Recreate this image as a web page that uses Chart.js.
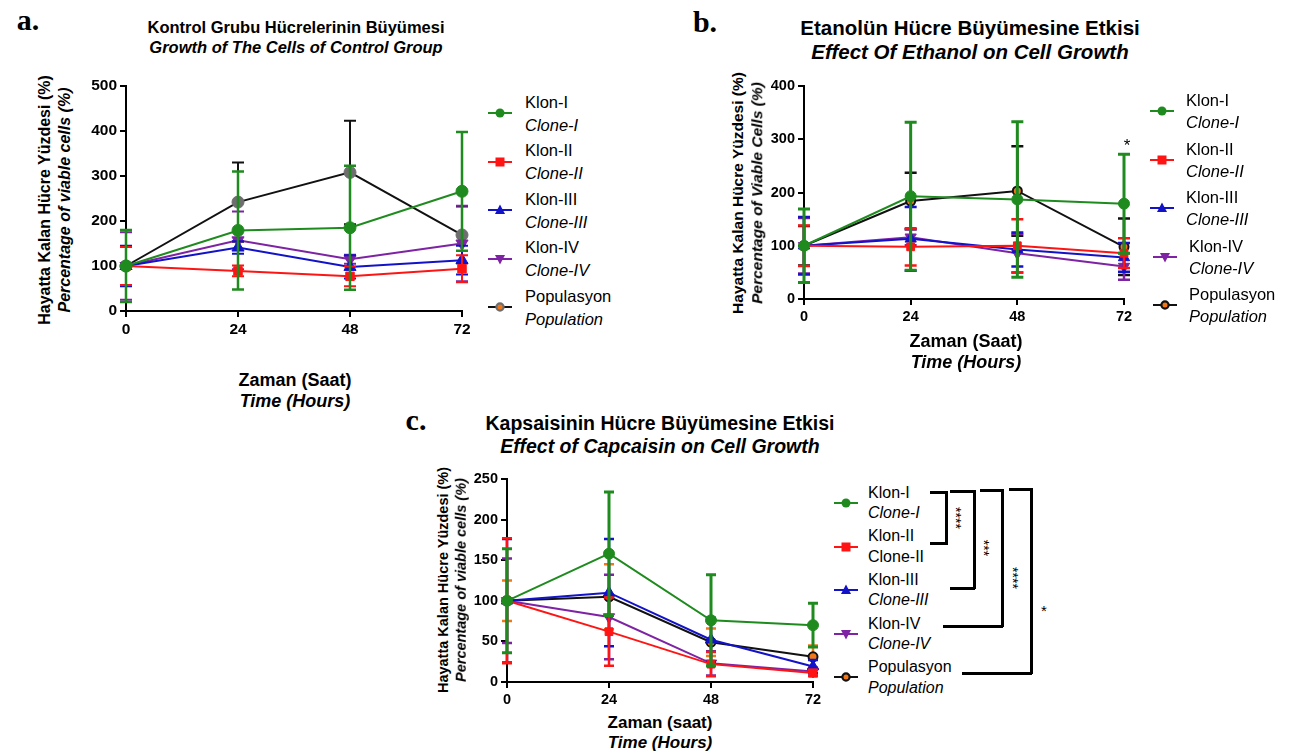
<!DOCTYPE html>
<html>
<head>
<meta charset="utf-8">
<script src="https://cdn.jsdelivr.net/npm/chart.js@4.4.1/dist/chart.umd.min.js"></script>
<style>
  body { margin: 0; background: #fff; }
  #page { position: relative; width: 1294px; height: 754px; overflow: hidden; font-family: "Liberation Sans", Arial, sans-serif; color: #000; }
  canvas { position: absolute; }
  .t { position: absolute; white-space: nowrap; transform: translate(-50%, -50%); line-height: 1; }
  .ln { position: absolute; background: #000; }
  .leg { position: absolute; }
  .leg svg { position: absolute; }
  .leg span { position: absolute; white-space: nowrap; line-height: 1; transform: translateY(-50%); }
</style>
</head>
<body>
<div id="page">
  <canvas id="chartA" width="400" height="280" style="left:79px;top:70px"></canvas>
  <canvas id="chartB" width="385" height="265" style="left:758px;top:70px"></canvas>
  <canvas id="chartC" width="370" height="250" style="left:460px;top:462px"></canvas>
</div>
<script>
// time points
var hours = [0, 24, 48, 72];

var seriesTr = ['Klon-I', 'Klon-II', 'Klon-III', 'Klon-IV', 'Populasyon'];
var seriesEn = ['Clone-I', 'Clone-II', 'Clone-III', 'Clone-IV', 'Population'];

// a. control group (mean, error)
var ctrlMeans = [
  [100, 179, 185, 266],
  [100, 89, 77, 94],
  [100, 141, 98, 113],
  [100, 157, 115, 150],
  [100, 242, 308, 169]
];
var ctrlErrors = [
  [80, 131, 138, 132],
  [42, 12, 22, 30],
  [45, 14, 26, 32],
  [75, 64, 10, 84],
  [0, 88, 115, 63]
];

// b. ethanol
var ethMeans = [
  [100, 193, 187, 179],
  [100, 98, 100, 86],
  [100, 113, 93, 78],
  [100, 116, 86, 61],
  [100, 184, 203, 98]
];
var ethErrors = [
  [69, 139, 146, 93],
  [38, 35, 50, 28],
  [54, 60, 32, 27],
  [52, 15, 36, 25],
  [37, 53, 84, 53]
];

// c. capsaicin
var capMeans = [
  [100, 158, 76, 70],
  [100, 62, 22, 11],
  [100, 110, 52, 19],
  [100, 80, 23, 13],
  [100, 105, 49, 31]
];
var capErrors = [
  [64, 76, 56, 27],
  [77, 42, 15, 4],
  [76, 66, 27, 8],
  [52, 52, 15, 5],
  [25, 40, 17, 14]
];

var yTicksA = [0, 500, 100];
var yTicksB = [0, 400, 100];
var yTicksC = [0, 250, 50];

var colors = ['#1f8b1f', '#ff1414', '#1212c8', '#7d23a3', '#111111'];
var orange = '#f07818';
var grey = '#6e6e6e';
var pointStyles = ['circle', 'rect', 'triangle', 'triangle', 'circle'];
var pointRot = [0, 0, 0, 180, 0];

var FONT = '"Liberation Sans", Arial, sans-serif';

// error bars drawn through the chart scales
var errorBars = {
  id: 'errorBars',
  beforeDatasetDraw: function(chart, args) {
    var ds = chart.data.datasets[args.index];
    if (!ds.err) return;
    var xs = chart.scales.x, ys = chart.scales.y, ctx = chart.ctx;
    ctx.save();
    ctx.strokeStyle = ds.errColor || ds.borderColor;
    ctx.lineWidth = ds.errWidth || 2;
    var cap = ds.capHalf || 5;
    ds.data.forEach(function(p, i) {
      var e = ds.err[i];
      if (!e) return;
      var px = xs.getPixelForValue(p.x);
      var top = ys.getPixelForValue(p.y + e);
      var bot = ys.getPixelForValue(p.y - e);
      ctx.beginPath();
      ctx.moveTo(px, top); ctx.lineTo(px, bot);
      ctx.moveTo(px - cap, top); ctx.lineTo(px + cap, top);
      ctx.moveTo(px - cap, bot); ctx.lineTo(px + cap, bot);
      ctx.stroke();
    });
    ctx.restore();
  }
};

function makeChart(id, means, errors, yt, o) {
  var datasets = means.map(function(m, s) {
    var isPop = s === 4;
    return {
      label: seriesTr[s],
      data: hours.map(function(h, i) { return { x: h, y: m[i] }; }),
      err: errors[s],
      borderColor: colors[s],
      errColor: isPop ? o.popErr : colors[s],
      errWidth: s === 0 ? o.errW + 0.5 : o.errW,
      capHalf: o.cap,
      borderWidth: 2,
      pointStyle: pointStyles[s],
      rotation: pointRot[s],
      pointRadius: isPop ? o.popR : (s >= 2 ? o.r + 1 : o.r),
      pointBackgroundColor: isPop ? o.popFill : colors[s],
      pointBorderColor: isPop ? o.popBorder : colors[s],
      pointBorderWidth: isPop ? o.popBW : 1,
      tension: 0,
      clip: false
    };
  });
  return new Chart(document.getElementById(id), {
    type: 'line',
    data: { datasets: datasets },
    options: {
      responsive: false,
      animation: false,
      layout: { padding: o.pad },
      plugins: { legend: { display: false }, tooltip: { enabled: false } },
      scales: {
        x: {
          type: 'linear', min: 0, max: 72,
          afterFit: function(s) { s.height = o.xh; },
          afterBuildTicks: function(s) { s.ticks = hours.map(function(h) { return { value: h }; }); },
          ticks: { color: '#000', font: { family: FONT, size: o.tick, weight: 'bold' }, padding: 3, maxRotation: 0 },
          grid: { drawOnChartArea: false, drawTicks: true, tickLength: 6, color: '#000', lineWidth: 2 },
          border: { color: '#000', width: 2 }
        },
        y: {
          min: yt[0], max: yt[1],
          afterFit: function(s) { s.width = o.yw; },
          ticks: { stepSize: yt[2], color: '#000', font: { family: FONT, size: o.tick, weight: 'bold' }, padding: 3 },
          grid: { drawOnChartArea: false, drawTicks: true, tickLength: 6, color: '#000', lineWidth: 2 },
          border: { color: '#000', width: 2 }
        }
      }
    },
    plugins: [errorBars]
  });
}

makeChart('chartA', ctrlMeans, ctrlErrors, yTicksA, {
  pad: { top: 16, right: 17, left: 0, bottom: 0 }, xh: 39, yw: 47, tick: 15.5,
  r: 6, popR: 6, popFill: grey, popBorder: grey, popBW: 1, popErr: '#111', errW: 2, cap: 6
});
makeChart('chartB', ethMeans, ethErrors, yTicksB, {
  pad: { top: 16, right: 19, left: 0, bottom: 0 }, xh: 36, yw: 46, tick: 14.5,
  r: 5.5, popR: 4.5, popFill: orange, popBorder: '#111', popBW: 2, popErr: '#111', errW: 2.5, cap: 6
});
makeChart('chartC', capMeans, capErrors, yTicksC, {
  pad: { top: 17, right: 17, left: 0, bottom: 0 }, xh: 30, yw: 47, tick: 14.5,
  r: 5.5, popR: 4.5, popFill: orange, popBorder: '#111', popBW: 2, popErr: orange, errW: 2.5, cap: 5
});

// ---- text and decorations ----
var page = document.getElementById('page');
function txt(x, y, s, size, opt) {
  opt = opt || {};
  var d = document.createElement('div');
  d.className = 't';
  d.textContent = s;
  d.style.left = x + 'px';
  d.style.top = y + 'px';
  d.style.fontSize = size + 'px';
  d.style.fontWeight = opt.bold ? 'bold' : 'normal';
  if (opt.italic) d.style.fontStyle = 'italic';
  if (opt.serif) d.style.fontFamily = '"Liberation Serif", "Times New Roman", serif';
  if (opt.rot) d.style.transform = 'translate(-50%, -50%) rotate(' + opt.rot + 'deg)';
  page.appendChild(d);
}
function line(x, y, w, h) {
  var d = document.createElement('div');
  d.className = 'ln';
  d.style.left = x + 'px'; d.style.top = y + 'px';
  d.style.width = w + 'px'; d.style.height = h + 'px';
  page.appendChild(d);
}

// panel letters
txt(28, 20, 'a.', 30, { bold: true, serif: true });
txt(705, 22, 'b.', 30, { bold: true, serif: true });
txt(416, 420, 'c.', 30, { bold: true, serif: true });

// titles
txt(296, 27, 'Kontrol Grubu Hücrelerinin Büyümesi', 16.5, { bold: true });
txt(296, 47, 'Growth of The Cells of Control Group', 16.5, { bold: true, italic: true });
txt(970, 28, 'Etanolün Hücre Büyümesine Etkisi', 20.5, { bold: true });
txt(970, 52, 'Effect Of Ethanol on Cell Growth', 20.5, { bold: true, italic: true });
txt(660, 424, 'Kapsaisinin Hücre Büyümesine Etkisi', 19.5, { bold: true });
txt(660, 447, 'Effect of Capcaisin on Cell Growth', 19.5, { bold: true, italic: true });

// y axis titles
txt(45, 200, 'Hayatta Kalan Hücre Yüzdesi (%)', 16, { bold: true, rot: -90 });
txt(65, 200, 'Percentage of viable cells (%)', 16, { bold: true, italic: true, rot: -90 });
txt(738, 193, 'Hayatta Kalan Hücre Yüzdesi (%)', 15.5, { bold: true, rot: -90 });
txt(757, 193, 'Percentage of Viable Cells (%)', 15.5, { bold: true, italic: true, rot: -90 });
txt(443, 580, 'Hayatta Kalan Hücre Yüzdesi (%)', 14.5, { bold: true, rot: -90 });
txt(461, 580, 'Percentage of viable cells (%)', 14.5, { bold: true, italic: true, rot: -90 });

// x axis titles
txt(295, 380, 'Zaman (Saat)', 18, { bold: true });
txt(295, 401, 'Time (Hours)', 18, { bold: true, italic: true });
txt(966, 341, 'Zaman (Saat)', 18, { bold: true });
txt(966, 362, 'Time (Hours)', 18, { bold: true, italic: true });
txt(660, 722, 'Zaman (saat)', 17, { bold: true });
txt(660, 742, 'Time (Hours)', 17, { bold: true, italic: true });

// significance in b
txt(1127, 145, '*', 17, {});

// legends
function icon(s, popFill, popStroke) {
  var c = colors[s], m;
  if (s === 0) m = '<circle cx="12" cy="7" r="4.5" fill="' + c + '"/>';
  else if (s === 1) m = '<rect x="7.5" y="2.5" width="9" height="9" fill="' + c + '"/>';
  else if (s === 2) m = '<polygon points="12,1.5 17,11 7,11" fill="' + c + '"/>';
  else if (s === 3) m = '<polygon points="7,3 17,3 12,12.5" fill="' + c + '"/>';
  else m = '<circle cx="12" cy="7" r="3.6" fill="' + popFill + '" stroke="' + popStroke + '" stroke-width="2.2"/>';
  var lc = s === 4 ? '#111' : c;
  return '<svg width="24" height="14" viewBox="0 0 24 14"><line x1="0" y1="7" x2="24" y2="7" stroke="' + lc + '" stroke-width="2"/>' + m + '</svg>';
}
function legend(ix, tx, y0, step, gap, size, popFill, popStroke, italics, shifts) {
  seriesTr.forEach(function(name, s) {
    var cy = y0 + s * step;
    var sh = shifts ? shifts[s] : 0;
    var d = document.createElement('div');
    d.className = 'leg';
    d.style.left = '0px'; d.style.top = '0px';
    d.innerHTML = icon(s, popFill, popStroke);
    d.firstChild.style.left = (ix + sh) + 'px';
    d.firstChild.style.top = (cy - 7) + 'px';
    var a = document.createElement('span');
    a.textContent = name;
    a.style.left = (tx + sh) + 'px'; a.style.top = (cy - gap / 2) + 'px'; a.style.fontSize = size + 'px';
    var b = document.createElement('span');
    b.textContent = seriesEn[s];
    b.style.left = (tx + sh) + 'px'; b.style.top = (cy + gap / 2) + 'px'; b.style.fontSize = size + 'px';
    if (italics[s]) b.style.fontStyle = 'italic';
    d.appendChild(a); d.appendChild(b);
    page.appendChild(d);
  });
}
legend(488, 525, 113, 48.5, 23, 16.5, orange, grey, [1, 1, 1, 1, 1]);
legend(1150, 1186, 111, 48.5, 22, 16.5, orange, '#111', [1, 1, 1, 1, 1], [0, 0, 0, 3, 3]);
legend(834, 868, 503, 43.6, 20.5, 16, orange, '#111', [1, 0, 1, 1, 1]);

// comparison brackets in c
line(930, 491, 17, 3); line(945, 491, 3, 54); line(930, 542, 17, 3);
line(950, 490, 25, 3); line(973, 490, 3, 99); line(950, 587, 25, 3);
line(980, 489, 23, 3); line(1001, 489, 3, 138); line(943, 625, 60, 3);
line(1009, 488, 23, 3); line(1030, 488, 3, 186); line(962, 672, 70, 3);
txt(956, 518, '****', 14, { rot: 90 });
txt(984, 548, '***', 14, { rot: 90 });
txt(1013, 578, '****', 14, { rot: 90 });
txt(1044, 610, '*', 15, {});
</script>
</body>
</html>
